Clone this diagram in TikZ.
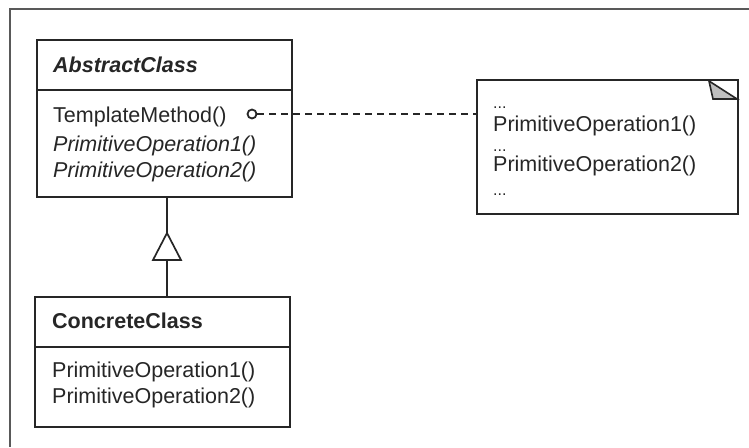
\documentclass[tikz,border=0pt]{standalone}
\usepackage{fontspec}
\setmainfont{Liberation Sans}
\begin{document}
\begin{tikzpicture}[x=1pt,y=-1pt,
  ink/.style={draw=black!85, line width=1.9pt},
  classbox/.style={ink, rectangle, inner sep=0pt, fill=white},
  label/.style={anchor=west, inner sep=0pt, text=black!85,
    font=\fontsize{21.5}{26}\selectfont},
  dots/.style={anchor=base west, inner sep=0pt, text=black!85,
    font=\fontsize{16}{18}\selectfont},
  frame/.style={draw=black!65, line width=2.4pt}]
\useasboundingbox[fill=white] (0,0) rectangle (749,447);

% page frame (top and left edges)
\draw[frame] (749,9) -- (10,9) -- (10,447);

% AbstractClass
\node[classbox, minimum width=255pt, minimum height=157pt] (abs) at (164.5,118.5) {};
\draw[ink] (abs.west |- 0,90) -- (abs.east |- 0,90);
\node[label, font=\fontsize{21.5}{26}\selectfont\bfseries\itshape] (absname) at (53,65) {AbstractClass};
\node[label] (tm) at (53,117) {TemplateMethod()};
\node[label, font=\fontsize{21.5}{26}\selectfont\itshape] (apo1) at (53,146) {PrimitiveOperation1()};
\node[label, font=\fontsize{21.5}{26}\selectfont\itshape] (apo2) at (53,172) {PrimitiveOperation2()};

% ConcreteClass
\node[classbox, minimum width=255pt, minimum height=130pt] (conc) at (162.5,362) {};
\draw[ink] (conc.west |- 0,347) -- (conc.east |- 0,347);
\node[label, font=\fontsize{21.5}{26}\selectfont\bfseries] (concname) at (52,321) {ConcreteClass};
\node[label] (cpo1) at (52,372) {PrimitiveOperation1()};
\node[label] (cpo2) at (52,398) {PrimitiveOperation2()};

% note with folded corner
\node[classbox, minimum width=261pt, minimum height=134pt] (note) at (607.5,147) {};
\draw[ink, line width=1.6pt, fill=black!25] (709,81) -- (713,99) -- (737,99) -- cycle;
\node[dots] (d1) at (493,108) {...};
\node[label] (npo1) at (493,126) {PrimitiveOperation1()};
\node[dots] (d2) at (493,151) {...};
\node[label] (npo2) at (493,166) {PrimitiveOperation2()};
\node[dots] (d3) at (493,195) {...};

% note attachment
\node[ink, circle, minimum size=9pt, inner sep=0pt, line width=1.8pt] (pin) at (252,114) {};
\draw[ink, dash pattern=on 7pt off 5pt] (pin.east) -- (note.west |- pin);

% generalization
\coordinate (apex) at (167,233);
\coordinate (base) at (167,260);
\draw[ink] (apex |- abs.south) -- (apex);
\draw[ink, line width=1.7pt, fill=white] (apex) -- (153,260) -- (181,260) -- cycle;
\draw[ink] (base) -- (base |- conc.north);
\end{tikzpicture}
\end{document}
